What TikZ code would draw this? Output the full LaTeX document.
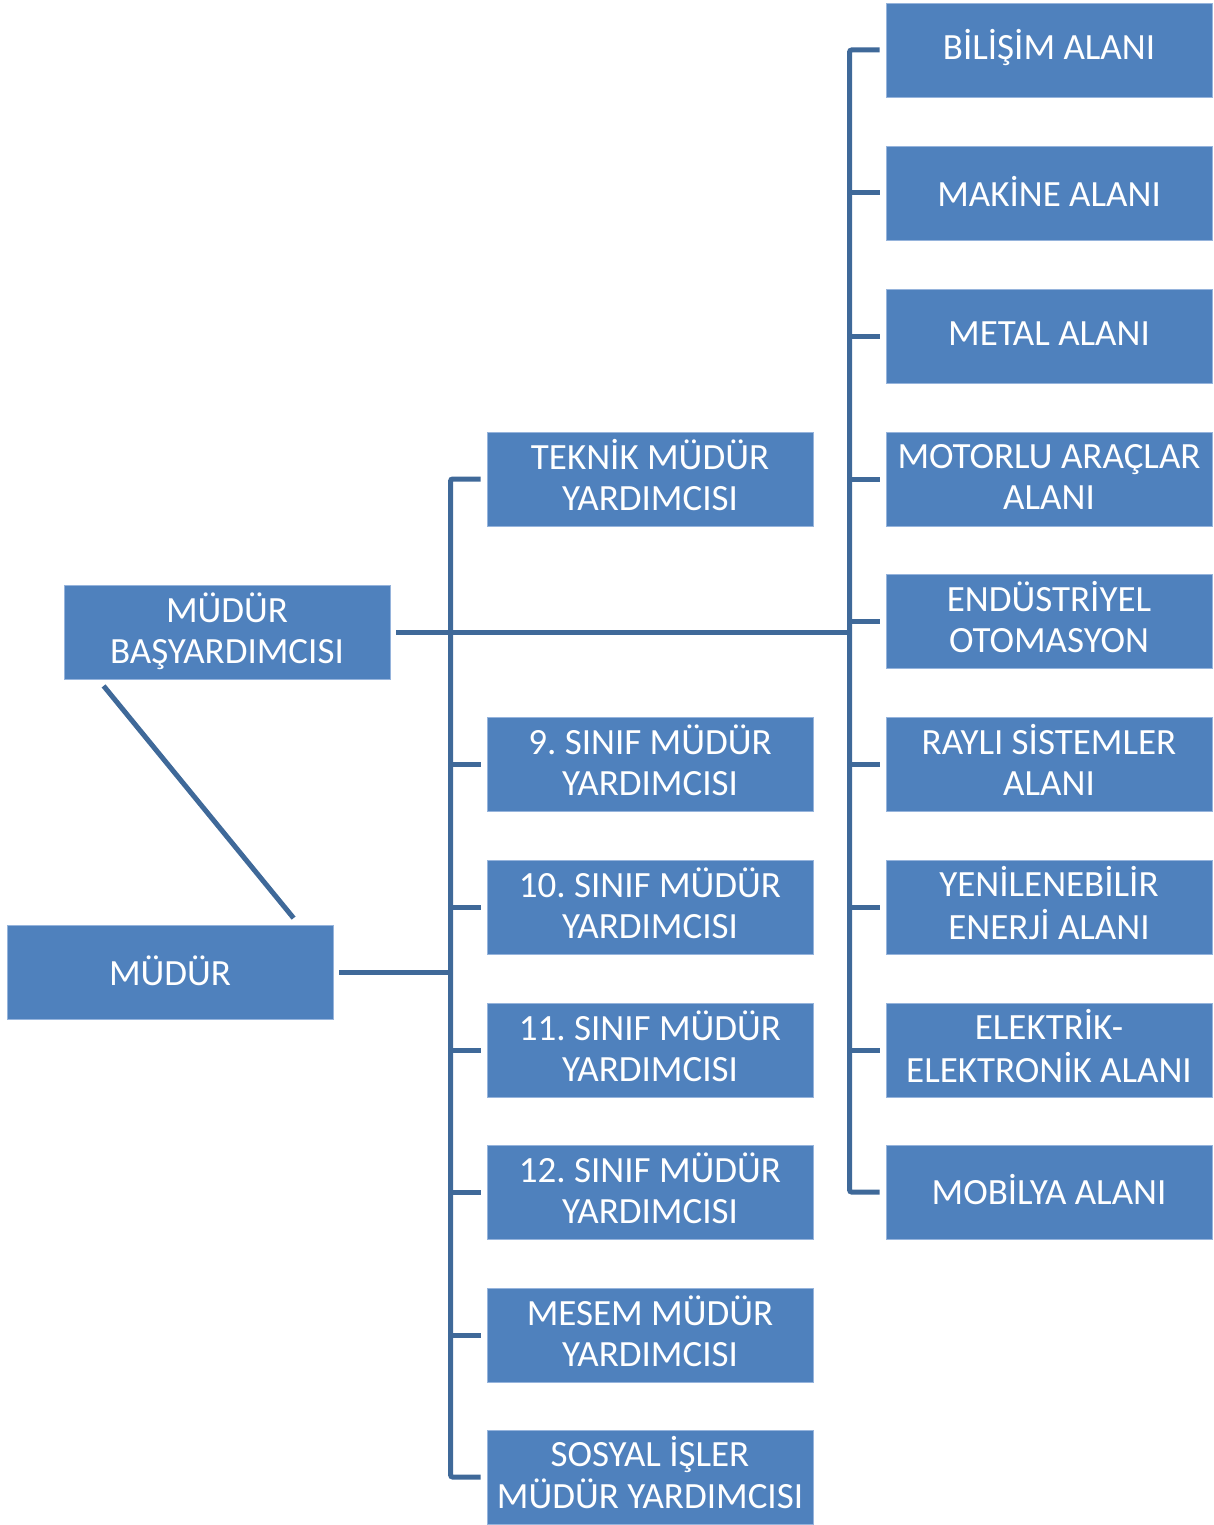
\documentclass[tikz,border=0pt]{standalone}
\usepackage{fontspec}
\setmainfont{Carlito}
\frenchspacing
\definecolor{boxfill}{RGB}{79,129,189}
\definecolor{boxline}{RGB}{150,180,220}
\definecolor{conncol}{RGB}{63,105,153}
\newcommand{\twoline}[2]{\raisebox{-2pt}[\height][\depth]{\begin{tabular}{@{}c@{}}#1\\#2\end{tabular}}}
\newcommand{\oneline}[1]{\raisebox{2pt}[\height][\depth]{#1}}
\begin{document}
\begin{tikzpicture}[x=1pt,y=-1pt,
  orgbox/.style={draw=boxline,line width=0.8pt,fill=boxfill,minimum width=326pt,minimum height=94pt,
    inner sep=0pt,align=center,text=white,font=\fontsize{37}{41}\selectfont},
  conn/.style={draw=conncol,line width=5pt,rounded corners=2pt}]
\useasboundingbox (0,0) rectangle (1214,1525);
% right column
\node[orgbox] (bilisim) at (1049,50) {\oneline{BİLİŞİM ALANI}};
\node[orgbox] (makine) at (1049,193) {\oneline{MAKİNE ALANI}};
\node[orgbox] (metal) at (1049,336) {\oneline{METAL ALANI}};
\node[orgbox] (motorlu) at (1049,479) {\twoline{MOTORLU ARAÇLAR}{ALANI}};
\node[orgbox] (endus) at (1049,621) {\twoline{ENDÜSTRİYEL}{OTOMASYON}};
\node[orgbox] (rayli) at (1049,764) {\twoline{RAYLI SİSTEMLER}{ALANI}};
\node[orgbox] (yenilen) at (1049,907) {\twoline{YENİLENEBİLİR}{ENERJİ ALANI}};
\node[orgbox] (elektrik) at (1049,1050) {\twoline{ELEKTRİK-}{ELEKTRONİK ALANI}};
\node[orgbox] (mobilya) at (1049,1192) {\oneline{MOBİLYA ALANI}};
% middle column
\node[orgbox] (teknik) at (650,479) {\twoline{TEKNİK MÜDÜR}{YARDIMCISI}};
\node[orgbox] (dokuz) at (650,764) {\twoline{9. SINIF MÜDÜR}{YARDIMCISI}};
\node[orgbox] (on) at (650,907) {\twoline{10. SINIF MÜDÜR}{YARDIMCISI}};
\node[orgbox] (onbir) at (650,1050) {\twoline{11. SINIF MÜDÜR}{YARDIMCISI}};
\node[orgbox] (oniki) at (650,1192) {\twoline{12. SINIF MÜDÜR}{YARDIMCISI}};
\node[orgbox] (mesem) at (650,1335) {\twoline{MESEM MÜDÜR}{YARDIMCISI}};
\node[orgbox] (sosyal) at (650,1477) {\twoline{SOSYAL İŞLER}{MÜDÜR YARDIMCISI}};
% left
\node[orgbox] (bas) at (227,632.5) {\twoline{MÜDÜR}{BAŞYARDIMCISI}};
\node[orgbox] (mudur) at (170,972.5) {\oneline{MÜDÜR}};
% right bus
\draw[conn] ([xshift=-6pt]bilisim.west) -| ([xshift=-36pt]mobilya.west) -- ([xshift=-6pt]mobilya.west);
\foreach \n in {makine,metal,motorlu,endus,rayli,yenilen,elektrik}
  \draw[conn] ([xshift=-6pt]\n.west) -- ([xshift=-36pt]\n.west);
% middle bus
\draw[conn] ([xshift=-6pt]teknik.west) -| ([xshift=-36pt]sosyal.west) -- ([xshift=-6pt]sosyal.west);
\foreach \n in {dokuz,on,onbir,oniki,mesem}
  \draw[conn] ([xshift=-6pt]\n.west) -- ([xshift=-36pt]\n.west);
% links from left boxes
\draw[conn] ([xshift=6pt]bas.east) -- ([xshift=-36pt]endus.west |- bas.east);
\draw[conn] ([xshift=6pt]mudur.east) -- ([xshift=-36pt]teknik.west |- mudur.east);
\draw[conn] ([shift={(40,6)}]bas.south west) -- ([shift={(287,-7)}]mudur.north west);
\end{tikzpicture}
\end{document}
